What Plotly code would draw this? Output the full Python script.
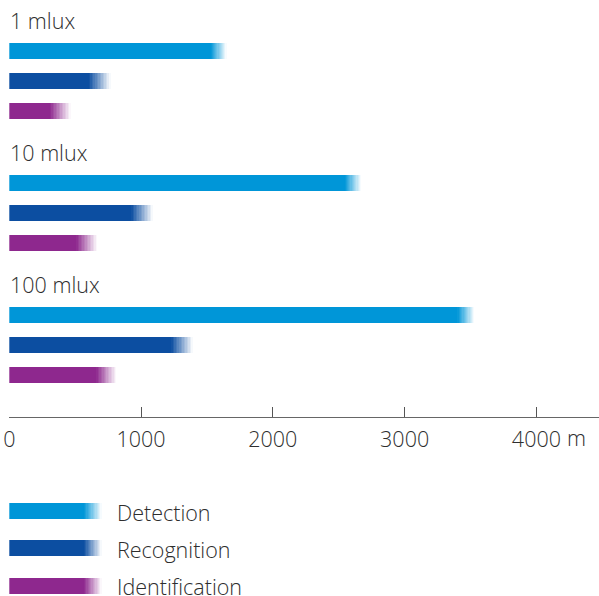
import plotly.graph_objects as go

# ---- data ----
categories = ["1 mlux", "10 mlux", "100 mlux"]
series_names = ["Detection", "Recognition", "Identification"]
detection_solid = [1530, 2546, 3403]
detection_end = [1651, 2673, 3532]
recognition_solid = [605, 928, 1232]
recognition_end = [771, 1092, 1395]
identification_solid = [309, 511, 663]
identification_end = [468, 668, 815]
tick_values = [0, 1000, 2000, 3000, 4000]
tick_labels = ["0", "1000", "2000", "3000", "4000"]
unit_label = "m"

# ---- style / layout constants ----
W, H = 599, 596
colors = ["#0096d8", "#0c4ea1", "#8e288e"]
FONT = "Open Sans"
FS = 21.5
TEXT_COLOR = "#2e2e2e"
AXIS_Y = 417          # pixel row of the axis line
FIRST_BAR = 51        # pixel centre of first bar
GROUP_STEP = 132.2
SERIES_STEP = 29.8
BAR_H = 16
N_FADE = 14
X_MAX = 4475
X_LEFT_PX = 9.3

LEG_Y = [511, 548, 585.5]
LEG_X0, LEG_SOLID, LEG_X1 = 9.5, 84, 102
LEG_TEXT_X = 115


def rgba(hexcol, a):
    h = hexcol.lstrip("#")
    r, g, b = int(h[0:2], 16), int(h[2:4], 16), int(h[4:6], 16)
    return f"rgba({r},{g},{b},{a:.3f})"


fig = go.Figure()

solid_sets = [detection_solid, recognition_solid, identification_solid]
end_sets = [detection_end, recognition_end, identification_end]


def add_faded_bars(lo, hi, ys, col, xaxis="x", start=0):
    n = len(ys)
    fig.add_bar(x=[l - start for l in lo], base=[start] * n, y=ys, orientation="h",
                width=BAR_H, marker=dict(color=col, line=dict(width=0)),
                xaxis=xaxis, yaxis="y", hoverinfo="skip", showlegend=False)
    seg = [(h - l) / N_FADE for l, h in zip(lo, hi)]
    for k in range(N_FADE):
        base = [l + k * d for l, d in zip(lo, seg)]
        alpha = 1 - (k + 0.5) / N_FADE
        fig.add_bar(x=seg, base=base, y=ys, orientation="h", width=BAR_H,
                    marker=dict(color=rgba(col, alpha), line=dict(width=0)),
                    xaxis=xaxis, yaxis="y", hoverinfo="skip", showlegend=False)


for s, name in enumerate(series_names):
    ys = [FIRST_BAR + g * GROUP_STEP + s * SERIES_STEP for g in range(len(categories))]
    add_faded_bars(solid_sets[s], end_sets[s], ys, colors[s])

# legend swatches (pixel coordinates on x2)
for s, name in enumerate(series_names):
    add_faded_bars([LEG_SOLID], [LEG_X1], [LEG_Y[s]], colors[s], xaxis="x2", start=LEG_X0)

font = dict(family=FONT, size=FS, color=TEXT_COLOR, weight=300)
annotations = []
for g, cat in enumerate(categories):
    annotations.append(dict(
        text=cat, xref="paper", yref="y", x=8 / W, xanchor="left",
        y=FIRST_BAR + g * GROUP_STEP - 30.5, yanchor="middle", showarrow=False,
        font=font))
for s, name in enumerate(series_names):
    annotations.append(dict(
        text=name, xref="paper", yref="y", x=LEG_TEXT_X / W, xanchor="left",
        y=LEG_Y[s] + 1, yanchor="middle", showarrow=False, font=font))
annotations.append(dict(
    text=unit_label, xref="x", yref="y", x=tick_values[-1], xanchor="left", xshift=29,
    y=437.5, yanchor="middle", showarrow=False, font=font))

fig.update_layout(
    width=W, height=H,
    margin=dict(l=0, r=0, t=0, b=0, pad=0, autoexpand=False),
    paper_bgcolor="white", plot_bgcolor="rgba(0,0,0,0)",
    barmode="overlay", bargap=0,
    showlegend=False,
    annotations=annotations,
    xaxis=dict(domain=[X_LEFT_PX / W, 1], range=[0, X_MAX], anchor="free",
               position=1 - AXIS_Y / H, showgrid=False, zeroline=False,
               showline=True, linecolor="#666666", linewidth=1.3,
               ticks="inside", ticklen=10, tickwidth=1, tickcolor="#555555",
               tickvals=tick_values, ticktext=tick_labels, ticklabelstandoff=3,
               tickfont=font, automargin=False, fixedrange=True),
    xaxis2=dict(range=[X_LEFT_PX, W], anchor="y", overlaying="x",
                visible=False, fixedrange=True),
    yaxis=dict(domain=[0, 1], range=[H, 0], visible=False, fixedrange=True,
               automargin=False),
)

fig.write_html("out.html", config={"displayModeBar": False},
               post_script="document.body.style.margin='0';document.body.style.padding='0';")
